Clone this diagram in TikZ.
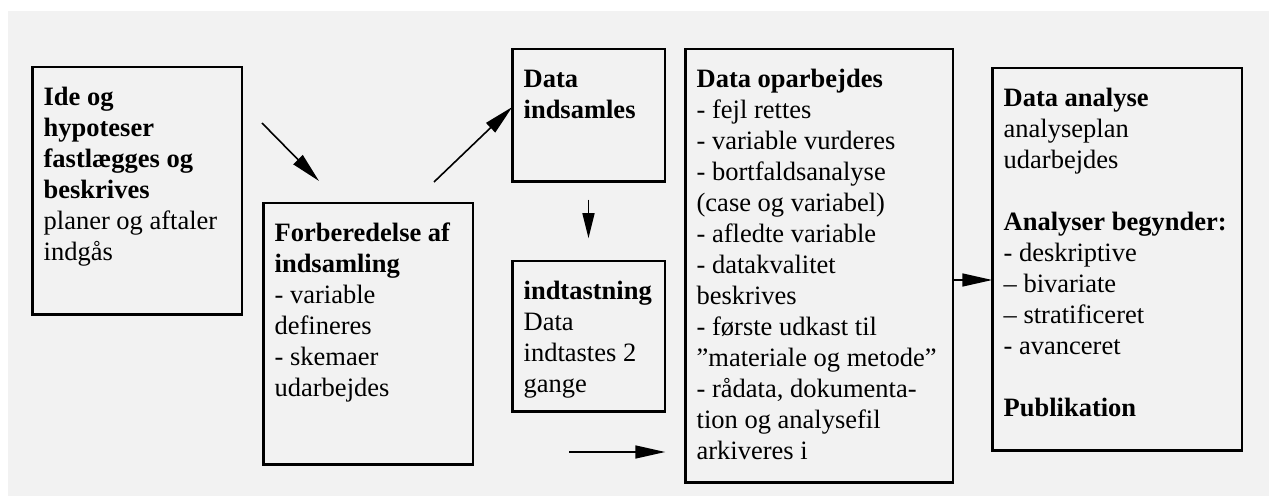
\documentclass[tikz,border=0pt]{standalone}
\usepackage{fontspec}
\setmainfont{Liberation Serif}
\usetikzlibrary{arrows.meta,positioning}

\definecolor{bggray}{HTML}{F2F2F2}
\newcommand{\topgap}{\rule{0pt}{18.7pt}}

\tikzset{
  stepbox/.style={draw, line width=1.25pt, inner sep=0pt, outer sep=0pt, anchor=north west},
  txt/.style={anchor=north west, inner sep=0pt, align=left, font=\fontsize{13.25pt}{15.5pt}\selectfont},
  arr/.style={-{Triangle[length=15pt,width=6.5pt]}, line width=0.8pt}
}

\begin{document}
\begin{tikzpicture}[x=0.5pt,y=-0.5pt]
\useasboundingbox (0,0) rectangle (1269,496);
\fill[bggray] (8,11) rectangle (1269,496);

% the six boxes
\node[stepbox, minimum width=104.75pt, minimum height=123.75pt] (ide) at (32.25,67.25) {};
\node[stepbox, minimum width=104.75pt, minimum height=130.75pt] (forb) at (263.25,203.25) {};
\node[stepbox, minimum width=76.25pt, minimum height=66.25pt] (indsaml) at (512.25,49.25) {};
\node[stepbox, minimum width=76.25pt, minimum height=75.25pt] (indtast) at (512.25,261.25) {};
\node[stepbox, minimum width=133.75pt, minimum height=216.75pt] (oparb) at (685.25,49.25) {};
\node[stepbox, minimum width=124.75pt, minimum height=191.25pt] (analyse) at (992.25,68.25) {};

% texts
\node[txt] (idetxt) at ([xshift=5.5pt]ide.north west) {\topgap\textbf{Ide og}\\\textbf{hypoteser}\\\textbf{fastlægges og}\\\textbf{beskrives}\\planer og aftaler\\indgås};
\node[txt] (forbtxt) at ([xshift=5.5pt]forb.north west) {\topgap\textbf{Forberedelse af}\\\textbf{indsamling}\\- variable\\defineres\\- skemaer\\udarbejdes};
\node[txt] (indsamltxt) at ([xshift=5.5pt]indsaml.north west) {\topgap\textbf{Data}\\\textbf{indsamles}};
\node[txt] (indtasttxt) at ([xshift=5.5pt]indtast.north west) {\topgap\textbf{indtastning}\\Data\\indtastes 2\\gange};
\node[txt] (oparbtxt) at ([xshift=5.5pt]oparb.north west) {\topgap\textbf{Data oparbejdes}\\- fejl rettes\\- variable vurderes\\- bortfaldsanalyse\\(case og variabel)\\- afledte variable\\- datakvalitet\\beskrives\\- første udkast til\\”materiale og metode”\\- rådata, dokumenta-\\tion og analysefil\\arkiveres i};
\node[txt] (analysetxt) at ([xshift=5.5pt]analyse.north west) {\topgap\textbf{Data analyse}\\analyseplan\\udarbejdes\\[15.5pt]\textbf{Analyser begynder:}\\- deskriptive\\– bivariate\\– stratificeret\\- avanceret\\[15.5pt]\textbf{Publikation}};

% arrows
\coordinate (a1s) at (262,123);
\coordinate (a1e) at (319,181);
\coordinate (a2s) at (434,182);
\coordinate (a4s) at (569,452);
\draw[arr] (a1s) -- (a1e);
\draw[arr] (a2s) -- ([yshift=4.25pt]indsaml.west);
\draw[arr, -{Triangle[length=12.5pt,width=6pt]}, shorten <=9pt, shorten >=11.5pt] (indsaml) -- (indtast);
\draw[arr, shorten >=10pt] (a4s) -- (a4s -| oparb.west);
\draw[arr] ([yshift=-7pt]oparb.east) -- ([yshift=-7pt]oparb.east -| analyse.west);
\end{tikzpicture}
\end{document}
